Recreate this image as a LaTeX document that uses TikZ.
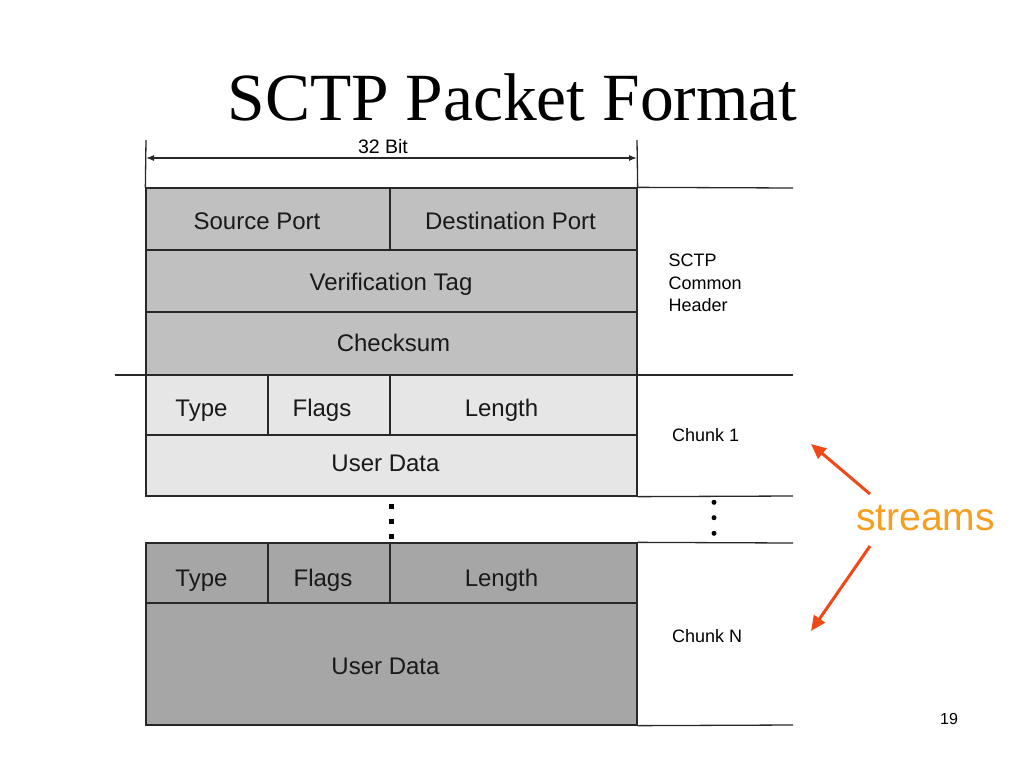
\documentclass[tikz,border=0pt]{standalone}
\usepackage{fontspec}
\setmainfont{Liberation Serif}
\newfontfamily\hv{Liberation Sans}
\usetikzlibrary{arrows.meta}
\definecolor{hdrgray}{RGB}{192,192,192}
\definecolor{lightgray}{RGB}{230,230,230}
\definecolor{darkgray}{RGB}{166,166,166}
\definecolor{linecol}{RGB}{40,40,40}
\definecolor{streamorange}{RGB}{245,158,32}
\definecolor{arrowred}{RGB}{240,72,22}
\tikzset{
  cell/.style={draw=linecol, line width=1.3pt, inner sep=0pt, anchor=center},
  hdr/.style={cell, fill=hdrgray},
  ch1/.style={cell, fill=lightgray},
  chn/.style={cell, fill=darkgray},
  field/.style={font=\hv\fontsize{24}{26}\selectfont, inner sep=0pt, anchor=base, text=black!90},
  rule/.style={draw=linecol, line width=1.3pt},
  side/.style={font=\hv\fontsize{18}{22.5}\selectfont, anchor=base west, align=left, inner sep=0pt},
  dotmark/.style={circle, fill=black, inner sep=0pt, minimum size=5pt},
  streamarrow/.style={draw=arrowred, line width=3pt, -{Triangle[length=15pt,width=13pt]}}
}
\begin{document}
\begin{tikzpicture}[x=1pt,y=-1pt]
\useasboundingbox (0,0) rectangle (1024,768);
\fill[white] (0,0) rectangle (1024,768);

% title
\node[font=\fontsize{67.5}{70}\selectfont, inner sep=0pt, anchor=base] (title) at (512.5,120) {SCTP Packet Format};

% common header cells
\node[hdr, minimum width=244pt, minimum height=62pt] (sp) at (268,219) {};
\node[hdr, minimum width=247pt, minimum height=62pt] (dp) at (513.5,219) {};
\node[hdr, minimum width=491pt, minimum height=62pt] (vt) at (391.5,281) {};
\node[hdr, minimum width=491pt, minimum height=63pt] (cs) at (391.5,343.5) {};

% chunk 1 cells
\node[ch1, minimum width=122pt, minimum height=60pt] (ty1) at (207,405) {};
\node[ch1, minimum width=122pt, minimum height=60pt] (fl1) at (329,405) {};
\node[ch1, minimum width=247pt, minimum height=60pt] (le1) at (513.5,405) {};
\node[ch1, minimum width=491pt, minimum height=61pt] (ud1) at (391.5,465.5) {};

% chunk N cells
\node[chn, minimum width=122pt, minimum height=60pt] (ty2) at (207,573) {};
\node[chn, minimum width=122pt, minimum height=60pt] (fl2) at (329,573) {};
\node[chn, minimum width=247pt, minimum height=60pt] (le2) at (513.5,573) {};
\node[chn, minimum width=491pt, minimum height=122pt] (ud2) at (391.5,664) {};

% field texts
\node[field] (tsp) at (257,229.5) {Source Port};
\node[field] (tdp) at (510.5,229.5) {Destination Port};
\node[field] (tvt) at (391,290.5) {Verification Tag};
\node[field] (tcs) at (393.5,351.7) {Checksum};
\node[field] (tty1) at (201.5,416.7) {Type};
\node[field] (tfl1) at (322,416.7) {Flags};
\node[field] (tle1) at (501.5,416.7) {Length};
\node[field] (tud1) at (385.5,471.7) {User Data};
\node[field] (tty2) at (201.5,586) {Type};
\node[field] (tfl2) at (323,586) {Flags};
\node[field] (tle2) at (501.5,586) {Length};
\node[field] (tud2) at (385.5,674) {User Data};

% 32 bit width marker
\coordinate (tl) at (146,140);
\coordinate (tr) at (637,140);
\draw[rule] (tl) -- (sp.north west);
\draw[rule] (tr) -- (dp.north east);
\coordinate (al) at (146,158);
\coordinate (ar) at (637,158);
\draw[draw=linecol, line width=1.2pt, {Latex[length=8pt,width=6pt]}-{Latex[length=8pt,width=6pt]}] (al) -- (ar);
\node[font=\hv\fontsize{19.5}{20}\selectfont, inner sep=0pt, anchor=base] (bits) at (383,153) {32 Bit};

% right-hand rules
\coordinate (r1) at (793,188);
\coordinate (r2) at (793,375);
\coordinate (l2) at (115,375);
\coordinate (r3) at (793,496);
\coordinate (r4) at (793,543);
\coordinate (r5) at (793,725);
\draw[rule] (dp.north east) -- (r1);
\draw[rule] (l2) -- (r2);
\draw[rule] (ud1.south east) -- (r3);
\draw[rule] (le2.north east) -- (r4);
\draw[rule] (ud2.south east) -- (r5);
\draw[rule] (dp.north east) -- (ud1.south east);
\draw[rule] (le2.north east) -- (ud2.south east);

% side labels
\node[side] (hdrlbl) at (668.5,311.5) {SCTP\\Common\\Header};
\node[side] (c1lbl) at (672,441.7) {Chunk 1};
\node[side] (cnlbl) at (672,642.3) {Chunk N};

% ellipsis dots
\node[dotmark, rectangle, minimum size=5pt] (d1) at (391,506) {};
\node[dotmark, rectangle, minimum size=5pt] (d2) at (391,521) {};
\node[dotmark, rectangle, minimum size=5pt] (d3) at (391,536) {};
\node[dotmark] (e1) at (714,502.3) {};
\node[dotmark] (e2) at (714,517.7) {};
\node[dotmark] (e3) at (714,533.3) {};

% streams annotation
\node[font=\hv\fontsize{39}{42}\selectfont, text=streamorange, inner sep=0pt, anchor=base] (streams) at (925.5,530) {streams};
\coordinate (s1a) at (870,494);
\coordinate (s1b) at (811,444);
\coordinate (s2a) at (870,546);
\coordinate (s2b) at (811,631);
\draw[streamarrow] (s1a) -- (s1b);
\draw[streamarrow] (s2a) -- (s2b);

% page number
\node[font=\hv\fontsize{16}{18}\selectfont, inner sep=0pt, anchor=base] (pnum) at (949,724) {19};
\end{tikzpicture}
\end{document}
